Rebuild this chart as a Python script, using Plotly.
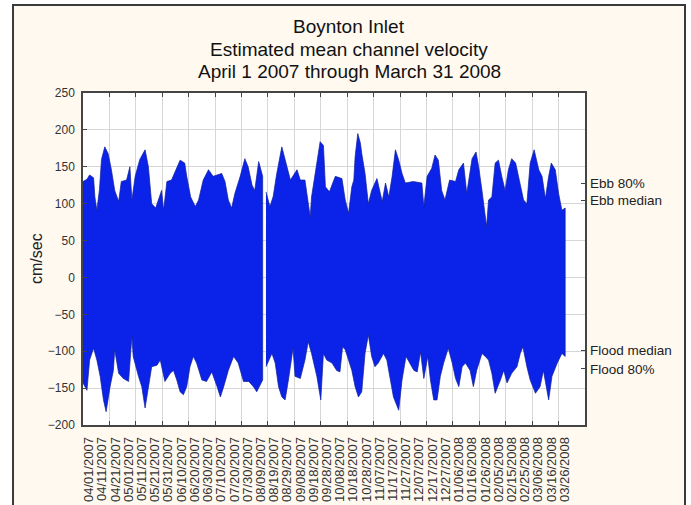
import pandas as pd
import plotly.graph_objects as go

START = pd.Timestamp("2007-04-01")
END_AXIS_DAYS = 380          # axis spans 19 grid intervals of 20 days
GAP_DAY = 137                # short break in the record (mid August 2007)

# Ebb envelope: (day offset from 04/01/2007, peak ebb velocity, cm/sec)
ebb_envelope = [
    (0, 130), (3, 133), (5, 139), (8, 135), (9, 109), (10.5, 91), (12.5, 120),
    (14, 160), (16.5, 177), (19, 168), (21.5, 146), (24, 118), (27, 103),
    (29, 130), (33, 132), (35.5, 150), (37, 105), (39.5, 137), (43, 160),
    (47, 173), (49.5, 150), (52, 100), (55, 94), (59.5, 118), (61, 91),
    (63.5, 130), (67, 132), (70.5, 148), (73.5, 159), (77, 155), (78.5, 137),
    (81.5, 109), (85, 96), (87.5, 105), (91, 132), (95, 146), (98.5, 137),
    (105, 141), (107.5, 130), (110, 105), (112.5, 94), (115, 114), (119, 137),
    (122.5, 161), (125, 150), (128, 125), (130, 118), (133, 157), (136, 137),
    (138.5, 116), (141.5, 96), (144, 110), (146.5, 139), (150.5, 177),
    (154.5, 150), (157, 132), (162, 146), (164.5, 132), (168, 132), (172, 82),
    (173, 109), (176, 141), (179.5, 184), (182, 179), (183.5, 123),
    (186.5, 116), (191, 137), (196, 134), (198.5, 105), (201, 87),
    (203.5, 123), (205, 132), (206, 164), (208, 195), (210, 182), (211, 168),
    (213.5, 141), (216, 100), (218.5, 118), (222.5, 134), (226.5, 103),
    (229, 128), (231.5, 109), (234, 137), (236.5, 173), (239, 159),
    (241.5, 141), (244, 128), (250, 130), (256.5, 128), (258, 96),
    (260.5, 137), (264, 148), (266.5, 166), (269, 159), (271.5, 118),
    (274, 105), (277.5, 132), (282, 130), (284.5, 146), (288, 155),
    (290.5, 114), (294.5, 161), (297.5, 170), (299.5, 150), (302, 118),
    (305.5, 69), (307, 105), (309.5, 109), (312, 155), (314.5, 159),
    (317, 137), (319.5, 118), (322, 146), (324.5, 161), (327.5, 155),
    (331, 123), (333.5, 105), (336, 100), (338.5, 155), (341.5, 173),
    (345, 146), (347.5, 137), (350, 107), (352.5, 137), (354.5, 155),
    (357.5, 146), (360, 114), (362.5, 91), (365, 94),
]

# Flood envelope: (day offset from 04/01/2007, peak flood velocity, cm/sec)
flood_envelope = [
    (0, -143), (3, -153), (5, -112), (8, -96), (10.5, -112), (13, -134),
    (15.5, -166), (17.5, -182), (20.5, -148), (23, -126), (24, -98),
    (27, -130), (30.5, -137), (34.5, -141), (37, -80), (38, -107),
    (42, -134), (44.5, -148), (47, -177), (49.5, -148), (52, -121),
    (56, -119), (58.5, -112), (62, -141), (66, -130), (68.5, -126),
    (71, -139), (73.5, -155), (76, -159), (78.5, -148), (81, -121),
    (83.5, -107), (86, -116), (90, -139), (93.5, -141), (97.5, -128),
    (101.5, -148), (104, -162), (106.5, -148), (110, -126), (114, -107),
    (117.5, -116), (121.5, -141), (125.5, -141), (129, -148), (131.5, -155),
    (136, -139),
    (138.5, -121), (143, -103), (145.5, -116), (148, -148), (150.5, -162),
    (153, -166), (155.5, -139), (159, -96), (160.5, -134), (164.5, -137),
    (168, -112), (170.5, -87), (173, -103), (177, -134), (180, -166),
    (182, -103), (184.5, -112), (188.5, -116), (192, -126), (194.5, -128),
    (196.5, -94), (198.5, -98), (201, -112), (203.5, -126), (206, -148),
    (208.5, -162), (211, -155), (213.5, -103), (216, -78), (218.5, -107),
    (221, -121), (223.5, -116), (227.5, -103), (230, -112), (232.5, -134),
    (235, -162), (239, -180), (241.5, -139), (244.5, -107), (247.5, -116),
    (250.5, -126), (253, -128), (255.5, -101), (258, -137), (261, -107),
    (263, -139), (265.5, -166), (268, -166), (270.5, -134), (273, -116),
    (276.5, -96), (279.5, -116), (282, -137), (284.5, -148), (287, -121),
    (289.5, -116), (293, -126), (295.5, -148), (298, -126), (302, -103),
    (304.5, -107), (307, -112), (309.5, -130), (312, -157), (316, -139),
    (318.5, -126), (321, -143), (324.5, -130), (328.5, -121), (331, -103),
    (333, -94), (336, -121), (338.5, -139), (342.5, -157), (346, -148),
    (348.5, -126), (352.5, -166), (355, -134), (359, -116), (362.5, -103),
    (365, -107),
]

# Reference statistics shown on the right-hand axis
ref_labels = ["Ebb 80%", "Ebb median", "Flood median", "Flood 80%"]
ref_values = [128, 104, -99, -124]

y_ticks = list(range(-200, 251, 50))
tick_dates = pd.date_range(START, "2008-03-26", freq="10D")

BLUE = "#0b22e8"
EDGE = "#10209a"
CREAM = "#fff9f0"
FONT = "Liberation Sans, Arial, sans-serif"
TXT = "#222222"


def to_date(days):
    return [START + pd.Timedelta(days=float(d)) for d in days]


fig = go.Figure()

# Velocity band drawn as filled envelope, split at the record gap
for before in (True, False):
    up = [p for p in ebb_envelope if (p[0] < GAP_DAY) == before]
    lo = [p for p in flood_envelope if (p[0] < GAP_DAY) == before]
    days = [p[0] for p in up] + [p[0] for p in lo][::-1]
    vals = [p[1] for p in up] + [p[1] for p in lo][::-1]
    fig.add_trace(go.Scatter(
        x=to_date(days), y=vals, mode="lines", fill="toself",
        fillcolor=BLUE, line=dict(color=EDGE, width=0.7),
        hoverinfo="skip", showlegend=False,
    ))

# Carrier traces for the grid axis (x2) and the statistics axis (y2)
fig.add_trace(go.Scatter(x=[START], y=[0], xaxis="x2", yaxis="y",
                         mode="markers", marker=dict(opacity=0),
                         hoverinfo="skip", showlegend=False))
fig.add_trace(go.Scatter(x=to_date([365] * len(ref_values)), y=ref_values,
                         xaxis="x", yaxis="y2", mode="markers",
                         marker=dict(opacity=0), hoverinfo="skip",
                         showlegend=False))

x_range = [START, START + pd.Timedelta(days=END_AXIS_DAYS)]
y_range = [-200, 250]

fig.update_layout(
    width=691, height=505, autosize=False,
    margin=dict(l=83, r=106, t=93, b=80),
    paper_bgcolor="white", plot_bgcolor="white",
    font=dict(family=FONT, color=TXT),
    xaxis=dict(
        type="date", range=x_range, automargin=False,
        tickmode="array", tickvals=list(tick_dates),
        ticktext=[d.strftime("%m/%d/%Y") for d in tick_dates],
        tickangle=-90, tickfont=dict(size=13, color="#333333"),
        ticks="", showgrid=False, zeroline=False,
        showline=True, mirror=True, linecolor="#444444", linewidth=1.5,
        ticklabelshift=6, ticklabelstandoff=5,
    ),
    xaxis2=dict(
        type="date", range=x_range, overlaying="x", anchor="y",
        automargin=False,
        tick0=START, dtick=20 * 86400000,
        showticklabels=False, showgrid=True, gridcolor="#d6d6d6",
        gridwidth=1, ticks="inside", ticklen=4, tickcolor="#444444",
        mirror="ticks", showline=False, zeroline=False,
    ),
    yaxis=dict(
        range=y_range, tickvals=y_ticks, automargin=False,
        tickfont=dict(size=12, color="#333333"),
        showgrid=True, gridcolor="#d6d6d6", gridwidth=1, zeroline=False,
        ticks="inside", ticklen=4, tickcolor="#444444",
        showline=True, mirror=True, linecolor="#444444", linewidth=1.5,
        ticklabelstandoff=4,
    ),
    yaxis2=dict(
        range=y_range, overlaying="y", side="right", anchor="x",
        automargin=False,
        tickmode="array", tickvals=ref_values, ticktext=ref_labels,
        tickfont=dict(size=13.5, color="#222222"),
        showgrid=False, zeroline=False, showline=False,
        ticks="inside", ticklen=4, tickcolor="#444444",
        ticklabelstandoff=4,
    ),
    shapes=[
        # outer cream panel with dark frame
        dict(type="rect", xref="paper", yref="paper", layer="below",
             x0=-0.1394, x1=1.1992, y0=-0.30, y1=1.265,
             fillcolor=CREAM, line=dict(color="#3a3a3a", width=2)),
        # white plotting area
        dict(type="rect", xref="paper", yref="paper", layer="below",
             x0=0, x1=1, y0=0, y1=1, fillcolor="white", line=dict(width=0)),
    ],
)

titles = ["Boynton Inlet", "Estimated mean channel velocity",
          "April 1 2007 through March 31 2008"]
title_y = [1.1988, 1.1325, 1.0633]
for text, yy in zip(titles, title_y):
    fig.add_annotation(text=text, xref="paper", yref="paper", x=0.53, y=yy,
                       xanchor="center", yanchor="middle", showarrow=False,
                       font=dict(size=19, family=FONT, color="#111111"))

fig.add_annotation(text="cm/sec", xref="paper", yref="paper", x=-0.0936,
                   y=0.5, textangle=-90, xanchor="center", yanchor="middle",
                   showarrow=False, font=dict(size=16, family=FONT, color=TXT))

fig.write_html("out.html")
